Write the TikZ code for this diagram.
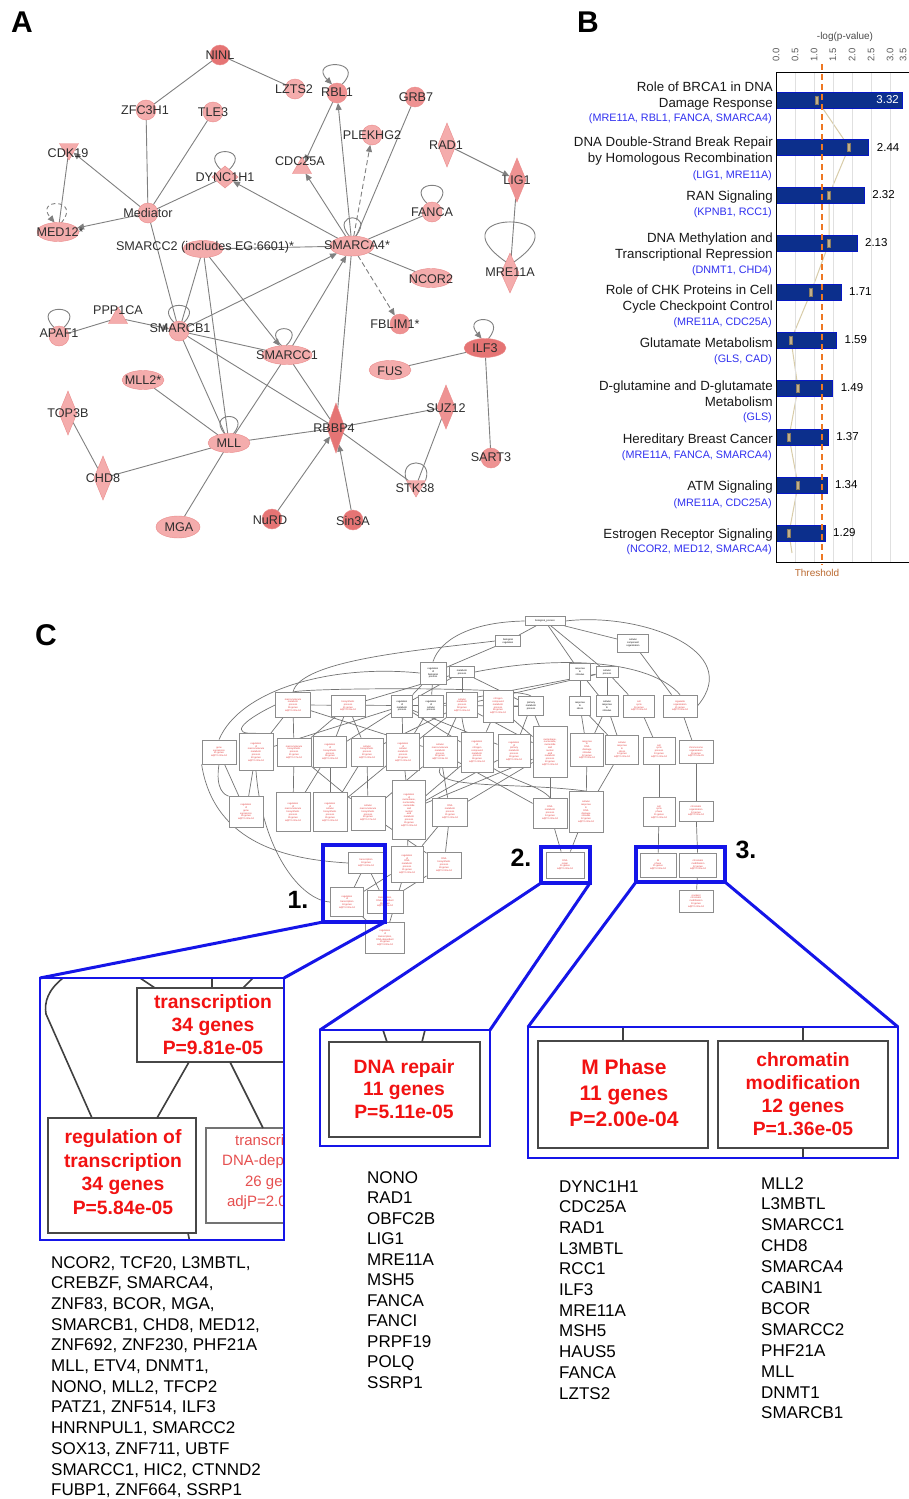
\documentclass[tikz,border=0pt]{standalone}
\usepackage{fontspec}
\setmainfont{Liberation Sans}
\usetikzlibrary{shapes.geometric,arrows.meta,calc}
\pgfdeclarelayer{background}
\pgfsetlayers{background,main}
\definecolor{pinkL}{HTML}{F4ACAC}
\definecolor{pinkM}{HTML}{EE9292}
\definecolor{pinkD}{HTML}{E57474}
\definecolor{labc}{HTML}{2E2E2E}
\definecolor{edgec}{HTML}{808080}
\definecolor{barblue}{HTML}{0C2F8C}
\definecolor{genblue}{HTML}{3030F0}
\definecolor{thr}{HTML}{EE7722}
\definecolor{thrtxt}{HTML}{BB6A30}
\definecolor{tanl}{HTML}{D8CCA8}
\definecolor{tanm}{HTML}{C2B08A}
\definecolor{hlblue}{HTML}{1515E8}
\definecolor{gored}{HTML}{E23B3B}
\definecolor{bred}{HTML}{F21212}
\definecolor{fred}{HTML}{E65050}
\newcommand\gob[7]{\node[gobs, text=#6, minimum width=#4pt, minimum height=#5pt] (#1) at (#2,#3) {#7};}
\newcommand\rbx[6]{\node[#6, anchor=north west, minimum width={(#4)-(#2)}, minimum height={(#5)-(#3)}] (#1) at (#2,#3) {};}
\tikzset{
  nshape/.style={fill=pinkL, draw=pinkD!60!pinkL, line width=0.4pt, inner sep=0pt, outer sep=0pt},
  nc/.style={nshape, circle, minimum size=20pt},
  ne/.style={nshape, ellipse, minimum width=42pt, minimum height=19pt},
  nd/.style={nshape, diamond, minimum width=18pt, minimum height=44pt},
  nt/.style={nshape, regular polygon, regular polygon sides=3, minimum size=22pt},
  nti/.style={nt, shape border rotate=180},
  lbl/.style={text=labc, font=\fontsize{12.6}{14}\selectfont, inner sep=0pt},
  ed/.style={draw=edgec, line width=0.9pt},
  ea/.style={ed, -{Triangle[length=7pt,width=6pt]}},
  eda/.style={ea, dash pattern=on 5pt off 3pt},
  pnl/.style={font=\bfseries\fontsize{30}{32}\selectfont, inner sep=0pt},
  cat/.style={anchor=base east, font=\fontsize{13.3}{15}\selectfont, inner sep=0pt, text=black!90},
  gen/.style={anchor=base east, font=\fontsize{10.8}{12}\selectfont, inner sep=0pt, text=genblue},
  barsty/.style={anchor=west, fill=barblue, draw=blue!50!barblue, line width=0.7pt, minimum height=16pt, inner sep=0pt, outer sep=0pt},
  val/.style={anchor=west, font=\fontsize{11.5}{12}\selectfont, inner sep=0pt},
  ax/.style={rotate=90, font=\fontsize{9.5}{10}\selectfont, text=black!65, inner sep=0pt},
  gobs/.style={rectangle, draw=black!45, line width=0.8pt, fill=white, font=\fontsize{2.4}{2.8}\selectfont, align=center, inner sep=0.5pt},
  goe/.style={draw=black!55, line width=0.7pt},
  rb/.style={inner sep=0pt, outer sep=0pt},
  hl/.style={rb, draw=hlblue, line width=3.6pt},
  zb/.style={rb, draw=hlblue, line width=2.6pt},
  zl/.style={draw=hlblue, line width=3pt},
  ibox/.style={rb, draw=black!72, line width=2.4pt, fill=white},
  igl/.style={draw=black!75, line width=1.6pt},
  itx/.style={text=bred, align=center, inner sep=0pt},
  gene/.style={anchor=base west, font=\fontsize{17}{20}\selectfont, inner sep=0pt},
  num/.style={font=\bfseries\fontsize{25}{27}\selectfont, inner sep=0pt},
}
\begin{document}
\begin{tikzpicture}[x=1pt,y=-1pt]
\useasboundingbox (0,0) rectangle (909,1499);
\begin{pgfonlayer}{background}
\fill[white] (0,0) rectangle (909,1499);
\end{pgfonlayer}

% ---------------- panel labels
\node[pnl] (pA) at (22,22) {A};
\node[pnl] (pB) at (588,22) {B};
\node[pnl] (pC) at (46,635) {C};

% ---------------- panel A: network
\node[nc, fill=pinkD] (ninl) at (220,55) {};
\node[nc] (lzts2) at (295,89) {};
\node[nc, fill=pinkM] (rbl1) at (337,93) {};
\node[nc, fill=pinkM] (grb7) at (415,97) {};
\node[nc] (zfc) at (146,110) {};
\node[nc] (tle3) at (213,112) {};
\node[nc] (plek) at (372,135) {};
\node[nd] (rad1) at (447,145) {};
\node[nti] (cdk19) at (69,149) {};
\node[nt] (cdc25a) at (302,168) {};
\node[nd, minimum width=26pt, minimum height=22pt] (dync) at (225,177) {};
\node[nd, fill=pinkM] (lig1) at (517,180) {};
\node[nc] (fanca) at (432,212) {};
\node[nc] (med) at (148,213) {};
\node[ne] (med12) at (58,232) {};
\node[ne, minimum width=40pt, minimum height=17pt] (smcc2) at (203,249) {};
\node[ne, minimum width=44pt, minimum height=20pt] (sma4) at (352,246) {};
\node[ne] (ncor2) at (431,278) {};
\node[nd, minimum height=40pt] (mre) at (510,273) {};
\node[nt] (ppp) at (118,318) {};
\node[nc] (apaf) at (59,336) {};
\node[nc] (smb1) at (179,331) {};
\node[nc, fill=pinkM] (fblim) at (400,324) {};
\node[ne, fill=pinkD] (ilf3) at (485,348) {};
\node[ne, minimum width=50pt] (smc1) at (287,355) {};
\node[ne] (fus) at (390,370) {};
\node[ne] (mll2) at (143,380) {};
\node[nd] (top3b) at (68,413) {};
\node[nd, fill=pinkM] (suz12) at (446,407) {};
\node[nd, fill=pinkD, minimum height=50pt] (rbbp4) at (336,428) {};
\node[ne] (mll) at (229,443) {};
\node[nc, fill=pinkM] (sart3) at (491,458) {};
\node[nd] (chd8) at (103,478) {};
\node[nti] (stk38) at (416,486) {};
\node[ne, minimum width=44pt, minimum height=22pt] (mga) at (178,527) {};
\node[nc, fill=pinkD] (nurd) at (272,519) {};
\node[nc, fill=pinkD] (sin3a) at (353,520) {};

\foreach \n/\x/\y/\t in {ninl/220/55/NINL, lzts2/294/89/LZTS2, rbl1/337/92/RBL1, grb7/416/97/GRB7,
  zfc/145/110/ZFC3H1, tle3/213/112/TLE3, plek/372/135/PLEKHG2, rad1/446/145/RAD1, cdk19/68/153/CDK19,
  cdc25a/300/161/CDC25A, dync/225/177/DYNC1H1, lig1/517/180/LIG1, fanca/432/212/FANCA, med/148/213/Mediator,
  med12/60/232/MED12*, smcc2/205/247/{SMARCC2 (includes EG:6601)*}, sma4/357/245/SMARCA4*, ncor2/431/279/NCOR2,
  mre/510/272/MRE11A, ppp/118/310/PPP1CA, apaf/59/333/APAF1, smb1/180/328/SMARCB1, fblim/395/324/FBLIM1*,
  ilf3/485/348/ILF3, smc1/287/355/SMARCC1, fus/390/371/FUS, mll2/143/380/MLL2*, top3b/68/413/TOP3B,
  suz12/446/408/SUZ12, rbbp4/334/428/RBBP4, mll/229/443/MLL, sart3/491/457/SART3, chd8/103/478/CHD8,
  stk38/415/488/STK38, mga/179/527/MGA, nurd/270/520/NuRD, sin3a/353/521/Sin3A}
  \node[lbl] (l-\n) at (\x,\y) {\t};

\begin{pgfonlayer}{background}
\draw[ed] (ninl) -- (zfc);
\draw[ed] (ninl) -- (lzts2);
\draw[ed] (zfc) -- (med);
\draw[ed] (tle3) -- (med);
\draw[ea] (med) -- (cdk19);
\draw[ea] (med) -- (med12);
\draw[ed] (cdk19) -- (med12);
\draw[ed] (med) -- (dync);
\draw[ea] (sma4) -- (dync);
\draw[ed] (med) -- (smb1);
\draw[ed] (smcc2) -- (sma4);
\draw[ed] (smcc2) -- (smb1);
\draw[ed] (smcc2) -- (mll);
\draw[ea] (smcc2) -- (smc1);
\draw[ea] (sma4) -- (rbl1);
\draw[eda] (sma4) -- (plek);
\draw[ed] (sma4) -- (grb7);
\draw[ea] (sma4) -- (cdc25a);
\draw[ea] (rbl1) -- (cdc25a);
\draw[ed] (sma4) -- (fanca);
\draw[ed] (sma4) -- (ncor2);
\draw[eda] (sma4) -- (fblim);
\draw[ea] (smb1) -- (sma4);
\draw[ea] (smc1) -- (sma4);
\draw[ed] (sma4) -- (rbbp4);
\draw[ea] (rad1) -- (lig1);
\draw[ed] (lig1) -- (mre);
\draw[ed] (apaf) -- (ppp);
\draw[ea] (ppp) -- (smb1);
\draw[ed] (smb1) -- (smc1);
\draw[ed] (smb1) -- (rbbp4);
\draw[ed] (smb1) -- (mll);
\draw[ed] (mll2) -- (mll);
\draw[ed] (chd8) -- (mll);
\draw[ed] (top3b) -- (chd8);
\draw[ed] (mll) -- (mga);
\draw[ed] (mll) -- (smc1);
\draw[ed] (mll) -- (rbbp4);
\draw[ed] (smc1) -- (rbbp4);
\draw[ed] (rbbp4) -- (suz12);
\draw[ed] (rbbp4) -- (stk38);
\draw[ed] (suz12) -- (stk38);
\draw[ea] (nurd) -- (rbbp4);
\draw[ea] (sin3a) -- (rbbp4);
\draw[ed] (fus) -- (ilf3);
\draw[ed] (ilf3) -- (sart3);
% self loops
\draw[ea] (rbl1.60) .. controls +(45:36pt) and +(135:36pt) .. (rbl1.120);
\draw[ed] (dync.120) .. controls +(135:34pt) and +(45:34pt) .. (dync.60);
\draw[ed] (fanca.120) .. controls +(135:34pt) and +(45:34pt) .. (fanca.60);
\draw[ed] (sma4.105) .. controls +(130:32pt) and +(50:32pt) .. (sma4.70);
\draw[ed] (smb1.120) .. controls +(135:32pt) and +(45:32pt) .. (smb1.60);
\draw[ed] (smc1.120) .. controls +(135:32pt) and +(45:32pt) .. (smc1.95);
\draw[ed] (mll.115) .. controls +(130:30pt) and +(50:30pt) .. (mll.65);
\draw[ed] (apaf.120) .. controls +(135:34pt) and +(45:34pt) .. (apaf.60);
\draw[ea] (ilf3.70) .. controls +(50:32pt) and +(130:32pt) .. (ilf3.110);
\draw[ed] (stk38.150) .. controls +(110:25pt) and +(70:25pt) .. (stk38.30);
\draw[ea, dash pattern=on 4pt off 3pt] (med12.70) .. controls +(50:32pt) and +(130:32pt) .. (med12.110);
\draw[ed] (mre.110) .. controls +(145:93pt) and +(35:93pt) .. (mre.70);
\end{pgfonlayer}

% ---------------- panel B: bar chart
\node[font=\fontsize{10}{11}\selectfont, text=black!70, inner sep=0pt] (axt) at (845,37) {-log(p-value)};
\foreach \k/\t in {0/0.0,1/0.5,2/1.0,3/1.5,4/2.0,5/2.5,6/3.0}
  \node[ax] (ax\k) at ({776+19*\k},55) {\t};
\node[ax] (ax7) at (903,55) {3.5};
\foreach \k in {1,...,7}
  \draw[black!12, line width=0.6pt] ({776+19*\k},72) -- ({776+19*\k},562);
\foreach \i/\y/\v in {1/100/3.32,2/147/2.44,3/195/2.32,4/243/2.13,5/292/1.71,6/340/1.59,7/388/1.49,8/437/1.37,9/485/1.34,10/533/1.29}
  \node[barsty, minimum width={38*\v}] (bar\i) at (776,\y) {};
\node[val, anchor=east, text=white] (v1) at (899,100) {3.32};
\foreach \i/\y/\v in {2/147/2.44,3/195/2.32,4/243/2.13,5/292/1.71,6/340/1.59,7/388/1.49,8/437/1.37,9/485/1.34,10/533/1.29}
  \node[val] (v\i) at ({776+38*\v+8},\y) {\v};
\foreach \i/\x/\y in {1/817/100,2/849/147,3/829/195,4/829/243,5/811/292,6/791/340,7/798/388,8/789/437,9/798/485,10/789/533}
  \node[fill=tanm, draw=tanm!70!black, line width=0.3pt, minimum width=3pt, minimum height=8pt, inner sep=0pt] (mk\i) at (\x,\y) {};
\coordinate (mkend) at (792,553);
\begin{pgfonlayer}{background}
\draw[tanl, line width=1pt] (mk1) -- (mk2) -- (mk3) -- (mk4) -- (mk5) -- (mk6) -- (mk7) -- (mk8) -- (mk9) -- (mk10) -- (mkend);
\end{pgfonlayer}
\coordinate (thtop) at (822,64);
\coordinate (thbot) at (822,565);
\draw[thr, line width=1.6pt, dash pattern=on 6pt off 4pt] (thtop) -- (thbot);
\draw[black, line width=1pt] (909,72) -- (776,72) -- (776,562) -- (909,562);
\node[font=\fontsize{10}{11}\selectfont, text=thrtxt, inner sep=0pt] (thl) at (817,573) {Threshold};

\foreach \n/\y/\t in {k1a/87/{Role of BRCA1 in DNA}, k1b/103/{Damage Response},
  k2a/142/{DNA Double-Strand Break Repair}, k2b/158/{by Homologous Recombination},
  k3a/196/{RAN Signaling}, k4a/238/{DNA Methylation and}, k4b/254/{Transcriptional Repression},
  k5a/290/{Role of CHK Proteins in Cell}, k5b/306/{Cycle Checkpoint Control},
  k6a/343/{Glutamate Metabolism}, k7a/386/{D-glutamine and D-glutamate}, k7b/402/{Metabolism},
  k8a/439/{Hereditary Breast Cancer}, k9a/486/{ATM Signaling}, k10a/534/{Estrogen Receptor Signaling}}
  \node[cat] (\n) at (773,\y+4.7) {\t};
\foreach \n/\y/\t in {bl1/118/{(MRE11A, RBL1, FANCA, SMARCA4)}, bl2/175/{(LIG1, MRE11A)},
  bl3/212/{(KPNB1, RCC1)}, bl4/270/{(DNMT1, CHD4)}, bl5/322/{(MRE11A, CDC25A)},
  bl6/359/{(GLS, CAD)}, bl7/417/{(GLS)}, bl8/455/{(MRE11A, FANCA, SMARCA4)},
  bl9/503/{(MRE11A, CDC25A)}, bl10/549/{(NCOR2, MED12, SMARCA4)}}
  \node[gen] (\n) at (772,\y+3.9) {\t};

% ---------------- panel C: GO graph
\gob{g0}{545}{621}{40}{9}{black}{biological\_process}
\gob{g1}{508}{641}{25}{11}{black}{biological\\regulation}
\gob{g2}{633}{643}{31}{18}{black}{cellular\\component\\organization}
\gob{g3}{433}{673}{26}{22}{black}{regulation\\of\\biological\\process}
\gob{g4}{462}{672}{25}{11}{black}{metabolic\\process}
\gob{g5}{580}{672}{21}{17}{black}{response\\to\\stimulus}
\gob{g6}{607}{672}{22}{11}{black}{cellular\\process}
\gob{g7}{293}{705}{35}{25}{gored}{macromolecule\\metabolic\\process\\55 genes\\adjP=1.00e-04}
\gob{g8}{348}{706}{34}{21}{gored}{biosynthetic\\process\\41 genes\\adjP=9.31e-04}
\gob{g9}{402}{706}{21}{22}{black}{regulation\\of\\metabolic\\process}
\gob{g10}{431}{706}{25}{22}{black}{regulation\\of\\cellular\\process}
\gob{g11}{462}{705}{31}{25}{gored}{cellular\\metabolic\\process\\58 genes\\adjP=1.00e-04}
\gob{g12}{498}{706}{30}{32}{gored}{nitrogen\\compound\\metabolic\\process\\46 genes\\adjP=1.00e-04}
\gob{g13}{531}{706}{25}{19}{black}{primary\\metabolic\\process}
\gob{g14}{580}{706}{21}{19}{black}{response\\to\\stress}
\gob{g15}{607}{706}{22}{21}{black}{cellular\\response\\to\\stimulus}
\gob{g16}{639}{706}{31}{22}{gored}{cell\\cycle\\16 genes\\adjP=1.00e-04}
\gob{g17}{680}{706}{34}{22}{gored}{organelle\\organization\\21 genes\\adjP=1.00e-04}
\gob{g18}{219}{752}{34}{24}{gored}{gene\\expression\\41 genes\\adjP=1.00e-04}
\gob{g19}{256}{752}{34}{37}{gored}{regulation\\of\\macromolecule\\metabolic\\process\\40 genes\\adjP=1.00e-04}
\gob{g20}{294}{752}{34}{28}{gored}{macromolecule\\biosynthetic\\process\\41 genes\\adjP=1.17e-04}
\gob{g21}{330}{752}{33}{31}{gored}{regulation\\of\\biosynthetic\\process\\36 genes\\adjP=1.00e-04}
\gob{g22}{367}{752}{32}{28}{gored}{cellular\\biosynthetic\\process\\40 genes\\adjP=1.00e-04}
\gob{g23}{403}{752}{33}{37}{gored}{regulation\\of\\cellular\\metabolic\\process\\40 genes\\adjP=1.00e-04}
\gob{g24}{440}{752}{34}{31}{gored}{cellular\\macromolecule\\metabolic\\process\\50 genes\\adjP=4.11e-04}
\gob{g25}{477}{752}{32}{40}{gored}{regulation\\of\\nitrogen\\compound\\metabolic\\process\\36 genes\\adjP=1.00e-04}
\gob{g26}{514}{751}{32}{33}{gored}{regulation\\of\\primary\\metabolic\\process\\39 genes\\adjP=1.00e-04}
\gob{g27}{550}{752}{34}{51}{gored}{nucleobase,\\nucleoside,\\nucleotide\\and\\nucleic\\acid\\metabolic\\process\\40 genes\\adjP=1.00e-04}
\gob{g28}{587}{750}{33}{33}{gored}{response\\to\\DNA\\damage\\stimulus\\12 genes\\adjP=1.00e-04}
\gob{g29}{622}{750}{33}{29}{gored}{cellular\\response\\to\\stress\\14 genes\\adjP=1.00e-04}
\gob{g30}{659}{751}{32}{27}{gored}{cell\\cycle\\process\\13 genes\\adjP=1.00e-04}
\gob{g31}{696}{752}{34}{23}{gored}{chromosome\\organization\\16 genes\\adjP=1.14e-05}
\gob{g32}{246}{812}{34}{31}{gored}{regulation\\of\\gene\\expression\\35 genes\\adjP=1.00e-04}
\gob{g33}{293}{812}{34}{39}{gored}{regulation\\of\\macromolecule\\biosynthetic\\process\\35 genes\\adjP=1.00e-04}
\gob{g34}{330}{812}{34}{39}{gored}{regulation\\of\\cellular\\biosynthetic\\process\\35 genes\\adjP=1.00e-04}
\gob{g35}{368}{813}{34}{34}{gored}{cellular\\macromolecule\\biosynthetic\\process\\40 genes\\adjP=1.17e-04}
\gob{g36}{409}{810}{33}{59}{gored}{regulation\\of\\nucleobase,\\nucleoside,\\nucleotide\\and\\nucleic\\acid\\metabolic\\process\\35 genes\\adjP=1.00e-04}
\gob{g37}{450}{812}{35}{28}{gored}{RNA\\metabolic\\process\\31 genes\\adjP=1.00e-04}
\gob{g38}{550}{813}{34}{30}{gored}{DNA\\metabolic\\process\\14 genes\\adjP=1.00e-04}
\gob{g39}{586}{812}{34}{41}{gored}{cellular\\response\\to\\DNA\\damage\\stimulus\\12 genes\\adjP=1.00e-04}
\gob{g40}{659}{812}{32}{29}{gored}{cell\\cycle\\phase\\11 genes\\adjP=1.00e-04}
\gob{g41}{696}{811}{34}{20}{gored}{chromatin\\organization\\14 genes\\adjP=1.00e-04}
\gob{g42}{366}{863}{35}{21}{gored}{transcription\\34 genes\\adjP=4.00e-04}
\gob{g43}{407}{864}{32}{36}{gored}{regulation\\of\\RNA\\metabolic\\process\\31 genes\\adjP=1.00e-04}
\gob{g44}{444}{865}{34}{26}{gored}{RNA\\biosynthetic\\process\\26 genes\\adjP=2.00e-04}
\gob{g45}{347}{902}{33}{29}{gored}{regulation\\of\\transcription\\34 genes\\adjP=2.00e-04}
\gob{g46}{385}{902}{36}{23}{gored}{transcription,\\DNA-dependent\\26 genes\\adjP=2.00e-04}
\gob{g47}{385}{938}{39}{31}{gored}{regulation\\of\\transcription,\\DNA-dependent\\25 genes\\adjP=3.00e-04}
\gob{g48}{565}{865}{38}{26}{gored}{DNA\\repair\\11 genes\\adjP=1.00e-04}
\gob{g49}{658}{865}{36}{24}{gored}{M\\phase\\11 genes\\adjP=2.00e-04}
\gob{g50}{698}{865}{37}{24}{gored}{chromatin\\modification\\12 genes\\adjP=1.00e-04}
\gob{g51}{696}{901}{34}{22}{gored}{covalent\\chromatin\\modification\\10 genes\\adjP=1.00e-04}

\begin{pgfonlayer}{background}
\foreach \a/\b in {g0/g1, g0/g2, g0/g5, g0/g6, g1/g3, g3/g9, g3/g10, g4/g9, g4/g11, g4/g13, g4/g8,
  g6/g10, g6/g11, g6/g15, g6/g16, g2/g17, g5/g14, g5/g15, g13/g12, g13/g7,
  g7/g20, g7/g24, g7/g19, g8/g20, g8/g22, g8/g21, g9/g19, g9/g21, g9/g23, g9/g25, g9/g26,
  g10/g23, g11/g22, g11/g24, g11/g23, g11/g27, g12/g27, g12/g25, g13/g26, g13/g27,
  g14/g28, g14/g29, g15/g28, g15/g29, g16/g30, g17/g31,
  g18/g32, g19/g32, g20/g33, g21/g33, g21/g34, g22/g34, g22/g35, g24/g35, g23/g34, g23/g36,
  g25/g36, g26/g36, g27/g36, g27/g37, g27/g38, g24/g37, g24/g38, g28/g39, g29/g39, g30/g40,
  g31/g41, g20/g35, g35/g44, g37/g44, g36/g43, g37/g43, g43/g45, g42/g45, g42/g46, g44/g46,
  g43/g47, g45/g47, g46/g47, g38/g48, g39/g48, g40/g49, g41/g50, g50/g51}
  \draw[goe] (\a) -- (\b);
\draw[goe] (g0.west) .. controls (470,622) and (440,640) .. (g3.north);
\draw[goe] (g3.west) .. controls (330,664) and (240,690) .. (g18.north);
\draw[goe] (g1.west) .. controls (420,650) and (300,660) .. (g7.north);
\draw[goe] (g4.east) .. controls (560,655) and (650,660) .. (g17.north);
\draw[goe] (g0.east) .. controls (640,612) and (745,650) .. (g17.east);
\draw[goe] (g7.north) .. controls (300,688) and (520,686) .. (g13.north);
\draw[goe] (g18.south) .. controls (215,790) and (225,795) .. (g32.north west);
\draw[goe] (g18.south west) .. controls (215,850) and (300,860) .. (g42.west);
\draw[goe] (g19.south) .. controls (262,850) and (300,900) .. (g45.west);
\draw[goe] (g11.south) .. controls (470,780) and (530,776) .. (g38.north);
\draw[goe] (g7.west) .. controls (240,722) and (230,735) .. (g19.north);
\draw[goe] (g24.south) .. controls (430,790) and (520,782) .. (g39.north);
\end{pgfonlayer}

% highlight boxes and labels
\rbx{hb1}{323}{845}{385}{922}{hl}
\rbx{hb2}{541}{847}{590}{883}{hl}
\rbx{hb3}{636}{847}{725}{882}{hl}
\node[num] (n1) at (298,900) {1.};
\node[num] (n2) at (521,858) {2.};
\node[num] (n3) at (746,850) {3.};

% inset 1
\begin{scope}
\clip (40,978) rectangle (284,1240);
\coordinate (i1a) at (63,978);
\coordinate (i1b) at (140,978);
\coordinate (i1c) at (212,978);
\coordinate (i1d) at (253,978);
\coordinate (i1f) at (92,1118);
\draw[igl] (i1a) .. controls (48,990) and (44,1002) .. (46,1014) -- (i1f);
\draw[igl] (i1b) -- ++(15,10);
\draw[igl] (i1c) -- ++(0,10);
\draw[igl] (i1d) -- ++(-10,10);
\rbx{tb}{137}{988}{296}{1062}{ibox}
\rbx{rg}{48}{1118}{196}{1233}{ibox}
\rbx{tdb}{206}{1128}{310}{1223}{ibox, draw=black!55, line width=1.6pt}
\draw[igl] ($(tb.south west)+(52,0)$) -- ($(rg.north west)+(109,0)$);
\draw[igl] ($(tb.south west)+(93,0)$) -- ($(tdb.north west)+(57,0)$);
\draw[igl] ($(rg.south west)+(140,0)$) -- ++(2,10);
\node[itx, font=\bfseries\fontsize{19.3}{23}\selectfont] (t1) at (213,1025) {transcription\\34 genes\\P=9.81e-05};
\node[itx, font=\bfseries\fontsize{19.3}{23.5}\selectfont] (t2) at (123,1172) {regulation of\\transcription\\34 genes\\P=5.84e-05};
\node[itx, text=fred, font=\fontsize{15}{20.3}\selectfont] (t3) at (276,1172) {transcription\\DNA-dependent\\26 genes\\adjP=2.00e-04};
\end{scope}
\rbx{z1}{40}{978}{284}{1240}{zb}

% inset 2
\rbx{dr}{329}{1042}{480}{1137}{ibox}
\draw[igl] ($(dr.north west)+(58,0)$) -- ++(-4,-12);
\draw[igl] ($(dr.north west)+(93,0)$) -- ++(3,-12);
\node[itx, font=\bfseries\fontsize{19.3}{22.5}\selectfont] (t4) at (404,1089) {DNA repair\\11 genes\\P=5.11e-05};
\rbx{z2}{320}{1030}{490}{1146}{zb}

% inset 3
\rbx{mp}{538}{1041}{708}{1148}{ibox}
\rbx{cm}{718}{1041}{888}{1148}{ibox}
\draw[igl] (mp.north) -- ++(0,-14);
\draw[igl] (cm.north) -- ++(0,-14);
\draw[igl] (cm.south) -- ++(0,10);
\node[itx, font=\bfseries\fontsize{21}{26}\selectfont] (t5) at (624,1093) {M Phase\\11 genes\\P=2.00e-04};
\node[itx, font=\bfseries\fontsize{19.3}{23.2}\selectfont] (t6) at (803,1094) {chromatin\\modification\\12 genes\\P=1.36e-05};
\rbx{z3}{528}{1027}{898}{1158}{zb}

% zoom connectors
\draw[zl] (hb1.south west) -- (z1.north west);
\draw[zl] (hb1.south east) -- (z1.north east);
\draw[zl] (hb2.south west) -- (z2.north west);
\draw[zl] (hb2.south east) -- (z2.north east);
\draw[zl] (hb3.south west) -- (z3.north west);
\draw[zl] (hb3.south east) -- (z3.north east);

% gene lists
\foreach \t [count=\i from 0] in {{NCOR2, TCF20, L3MBTL,},{CREBZF, SMARCA4,},{ZNF83, BCOR, MGA,},
  {SMARCB1, CHD8, MED12,},{ZNF692, ZNF230, PHF21A},{MLL, ETV4, DNMT1,},{NONO, MLL2, TFCP2},
  {PATZ1, ZNF514, ILF3},{HNRNPUL1, SMARCC2},{SOX13, ZNF711, UBTF},{SMARCC1, HIC2, CTNND2},
  {FUBP1, ZNF664, SSRP1}}
  \node[gene] (ga\i) at (51,{1268+20.7*\i}) {\t};
\foreach \t [count=\i from 0] in {NONO,RAD1,OBFC2B,LIG1,MRE11A,MSH5,FANCA,FANCI,PRPF19,POLQ,SSRP1}
  \node[gene] (gb\i) at (367,{1183+20.5*\i}) {\t};
\foreach \t [count=\i from 0] in {DYNC1H1,CDC25A,RAD1,L3MBTL,RCC1,ILF3,MRE11A,MSH5,HAUS5,FANCA,LZTS2}
  \node[gene] (gc\i) at (559,{1192+20.7*\i}) {\t};
\foreach \t [count=\i from 0] in {MLL2,L3MBTL,SMARCC1,CHD8,SMARCA4,CABIN1,BCOR,SMARCC2,PHF21A,MLL,DNMT1,SMARCB1}
  \node[gene] (gd\i) at (761,{1189+20.9*\i}) {\t};
\end{tikzpicture}
\end{document}
